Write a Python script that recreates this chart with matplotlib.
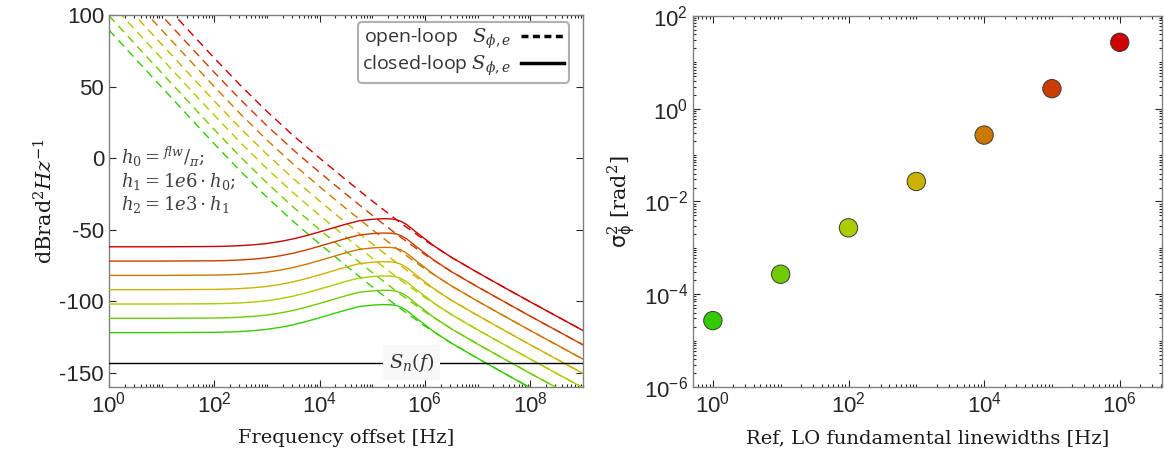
import numpy as np
import matplotlib
matplotlib.use('Agg')
import matplotlib.pyplot as plt
from matplotlib.ticker import LogLocator, NullFormatter
from matplotlib.lines import Line2D

plt.rcParams['font.family'] = ['Liberation Sans', 'DejaVu Sans']
plt.rcParams['mathtext.fontset'] = 'dejavuserif'
plt.rcParams['axes.unicode_minus'] = False

# fundamental linewidths (Hz) of Ref / LO and the colours used for each
linewidths = [1e0, 1e1, 1e2, 1e3, 1e4, 1e5, 1e6]
colors = ['#33cc00', '#6ecc00', '#aacc00', '#ccb200', '#cc7700', '#cc3c00', '#cc0000']

# open-loop S_phi,e for the 1 Hz curve (dB rad^2/Hz)
f_open = [1e0, 10**0.5, 1e1, 10**1.5, 1e2, 10**2.5, 1e3, 10**3.5, 1e4, 10**4.5,
          1e5, 10**5.5, 1e6, 10**6.5, 1e7, 10**7.5, 1e8, 10**8.5, 1e9]
open_db = [89.5, 69.5, 49.6, 29.7, 9.9, -9.3, -27.4, -44.3, -60.0, -75.2,
           -90.0, -104.3, -117.5, -129.3, -140.0, -150.3, -160.5, -170.5, -180.5]

# closed-loop S_phi,e for the 1 Hz curve (dB rad^2/Hz)
f_closed = [1e0, 1e1, 1e2, 10**2.25, 10**2.5, 10**2.75, 1e3, 10**3.25, 10**3.5,
            10**3.75, 1e4, 10**4.25, 10**4.5, 10**4.75, 1e5, 10**5.2, 10**5.35,
            10**5.45, 10**5.55, 10**5.65, 10**5.75, 10**5.85, 1e6, 10**6.15,
            10**6.3, 10**6.5, 1e7, 10**7.5, 1e8, 10**8.5, 1e9]
closed_db = [-122.0, -122.0, -121.8, -121.6, -121.2, -120.6, -119.7, -118.3, -116.5,
             -114.2, -111.6, -108.9, -106.2, -103.8, -102.8, -102.4, -102.5,
             -103.0, -104.3, -106.4, -109.3, -112.3, -116.5, -120.8,
             -124.5, -129.3, -140.0, -150.3, -160.5, -170.5, -180.5]

# each decade of linewidth lifts the curves by 10 dB
step_db = [0, 10, 20, 30, 40, 50, 60]

# receiver noise floor S_n(f)
sn_db = -143

# integrated phase error variance vs linewidth
sigma2 = [2.7e-5, 2.7e-4, 2.7e-3, 2.7e-2, 2.7e-1, 2.7e0, 2.7e1]

fig = plt.figure(figsize=(11.64, 4.70), dpi=100)
ax1 = fig.add_axes([0.0936, 0.1766, 0.4072, 0.7915])
ax2 = fig.add_axes([0.5954, 0.1766, 0.4029, 0.7895])

spine_c = '#808080'
tick_c = '#262626'

for ax in (ax1, ax2):
    for s in ax.spines.values():
        s.set_color(spine_c)
        s.set_linewidth(1.0)
    ax.tick_params(which='both', direction='in', top=True, right=True,
                   colors=tick_c, labelsize=16, width=0.8)
    ax.tick_params(which='major', length=5)
    ax.tick_params(which='minor', length=2.5)

# ---- left panel
for i in range(len(linewidths)):
    ax1.semilogx(f_open, np.array(open_db) + step_db[i], color=colors[i],
                 lw=1.0, ls=(0, (6, 4)), zorder=2)
for i in range(len(linewidths)):
    ax1.semilogx(f_closed, np.array(closed_db) + step_db[i], color=colors[i],
                 lw=1.0, zorder=3)

ax1.axhline(sn_db, color='k', lw=1.0, zorder=4)
ax1.text(10**5.75, sn_db, r'$S_n(f)$', ha='center', va='center', fontsize=14,
         color='#333333', zorder=5,
         bbox=dict(boxstyle='square,pad=0.3', fc='#f8f8f8', ec='none'))

ax1.set_xscale('log')
ax1.set_xlim(1e0, 1e9)
ax1.set_ylim(-160, 100)
ax1.set_xticks([1e0, 1e2, 1e4, 1e6, 1e8])
ax1.xaxis.set_minor_locator(LogLocator(base=10, subs=np.arange(1, 10), numticks=30))
ax1.xaxis.set_minor_formatter(NullFormatter())
ax1.set_yticks([-150, -100, -50, 0, 50, 100])
ax1.set_xlabel('Frequency offset [Hz]', family='DejaVu Serif', fontsize=14,
               labelpad=8, color='#1a1a1a')
ax1.set_ylabel(r'dBrad$^2$$Hz^{-1}$', family='DejaVu Serif', fontsize=15,
               labelpad=2, color='#1a1a1a')

ax1.text(0.025, 0.65, r'$h_0={}^{flw}/_{\pi};$' + '\n' + r'$h_1=1e6\cdot h_0;$'
         + '\n' + r'$h_2=1e3\cdot h_1$', transform=ax1.transAxes, fontsize=13,
         va='top', ha='left', color='#404040', linespacing=1.1)

handles = [Line2D([], [], color='k', lw=2.5, ls=(0, (2, 1.3))),
           Line2D([], [], color='k', lw=2.5)]
leg = ax1.legend(handles, [r'open-loop   $S_{\phi,e}$', r'closed-loop $S_{\phi,e}$'],
                 loc='upper right', bbox_to_anchor=(0.97, 0.981), borderaxespad=0,
                 markerfirst=False, handlelength=2.2,
                 prop={'family': 'Open Sans', 'size': 14}, fancybox=True,
                 framealpha=1, edgecolor='#b0b0b0', labelspacing=0.15,
                 borderpad=0.25, handletextpad=0.5)
leg.get_frame().set_linewidth(1.5)
for t in leg.get_texts():
    t.set_color('#333333')

# ---- right panel
ax2.scatter(linewidths, sigma2, s=175, c=colors, edgecolors='#3a3a3a',
            linewidths=0.7, zorder=3)
ax2.set_xscale('log')
ax2.set_yscale('log')
ax2.set_xlim(0.51, 4.2e6)
ax2.set_ylim(1e-6, 1e2)
ax2.set_xticks([1e0, 1e2, 1e4, 1e6])
ax2.set_yticks([1e-6, 1e-4, 1e-2, 1e0, 1e2])
ax2.xaxis.set_minor_locator(LogLocator(base=10, subs=np.arange(1, 10), numticks=30))
ax2.yaxis.set_minor_locator(LogLocator(base=10, subs=np.arange(1, 10), numticks=30))
ax2.xaxis.set_minor_formatter(NullFormatter())
ax2.yaxis.set_minor_formatter(NullFormatter())
ax2.set_xlabel('Ref, LO fundamental linewidths [Hz]', family='DejaVu Serif',
               fontsize=14, labelpad=8, color='#1a1a1a')
ax2.set_ylabel(r'$\mathsf{\sigma}^2_{\mathsf{\phi}}$ [rad$^2$]', family='DejaVu Serif',
               fontsize=15, labelpad=4, color='#1a1a1a')

fig.savefig('out.png', dpi=100)
